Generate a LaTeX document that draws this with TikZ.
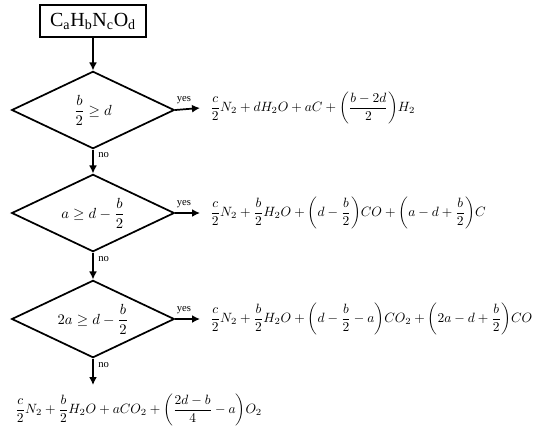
\RequirePackage{fix-cm}
\documentclass[tikz,border=0pt]{standalone}
\usepackage{amsmath}
\usepackage{fontspec}
\setmainfont{Liberation Serif}
\usetikzlibrary{shapes.geometric,positioning,arrows.meta}
\tikzset{
  decision/.style={diamond, draw, line width=1.3pt, minimum width=122pt, minimum height=58pt, inner sep=0pt, aspect=2, font=\fontsize{11}{13}\selectfont},
  flow/.style={-{Latex[length=6pt,width=6pt]}, line width=1.3pt},
  answer/.style={font=\footnotesize},
  result/.style={anchor=west, inner sep=0pt, font=\fontsize{10.1}{13}\selectfont}
}
\newcommand{\paren}[1]{{\left(#1\right)}}
\begin{document}
\begin{tikzpicture}[x=0.75pt,y=-0.75pt]
\useasboundingbox (0,0) rectangle (538,437);
\node[draw, line width=1.3pt, minimum width=80pt, minimum height=24pt, font=\fontsize{15}{18}\selectfont] (comp) at (93,21) {C\textsubscript{a}H\textsubscript{b}N\textsubscript{c}O\textsubscript{d}};
\node[decision] (test1) at (93,110) {$\dfrac{b}{2}\geq d$};
\node[decision] (test2) at (93,213) {$a\geq d-\dfrac{b}{2}$};
\node[decision] (test3) at (93,319) {$2a\geq d-\dfrac{b}{2}$};
% results
\node[result] (res1) at (210,108) {$\dfrac{c}{2}N_2+dH_2O+aC+\paren{\dfrac{b-2d}{2}}H_2$};
\node[result] (res2) at (210,213) {$\dfrac{c}{2}N_2+\dfrac{b}{2}H_2O+\paren{d-\dfrac{b}{2}}CO+\paren{a-d+\dfrac{b}{2}}C$};
\node[result] (res3) at (210,319) {$\dfrac{c}{2}N_2+\dfrac{b}{2}H_2O+\paren{d-\dfrac{b}{2}-a}CO_2+\paren{2a-d+\dfrac{b}{2}}CO$};
\node[result] (res4) at (15,410) {$\dfrac{c}{2}N_2+\dfrac{b}{2}H_2O+aCO_2+\paren{\dfrac{2d-b}{4}-a}O_2$};
\coordinate (end) at (93,385);
% connectors
\draw[flow] (comp) -- (test1.north);
\draw[flow] (test1.south) -- node[answer, right, pos=0.25] {no} (test2.north);
\draw[flow] (test2.south) -- node[answer, right, pos=0.25] {no} (test3.north);
\draw[flow] (test3.south) -- node[answer, right, pos=0.25] {no} (end);
\draw[flow] (test1.east) -- node[answer, above, pos=0.35] {yes} ([xshift=-7.5pt]res1.west);
\draw[flow] (test2.east) -- node[answer, above, pos=0.35] {yes} ([xshift=-7.5pt]res2.west);
\draw[flow] (test3.east) -- node[answer, above, pos=0.35] {yes} ([xshift=-7.5pt]res3.west);
\end{tikzpicture}
\end{document}
